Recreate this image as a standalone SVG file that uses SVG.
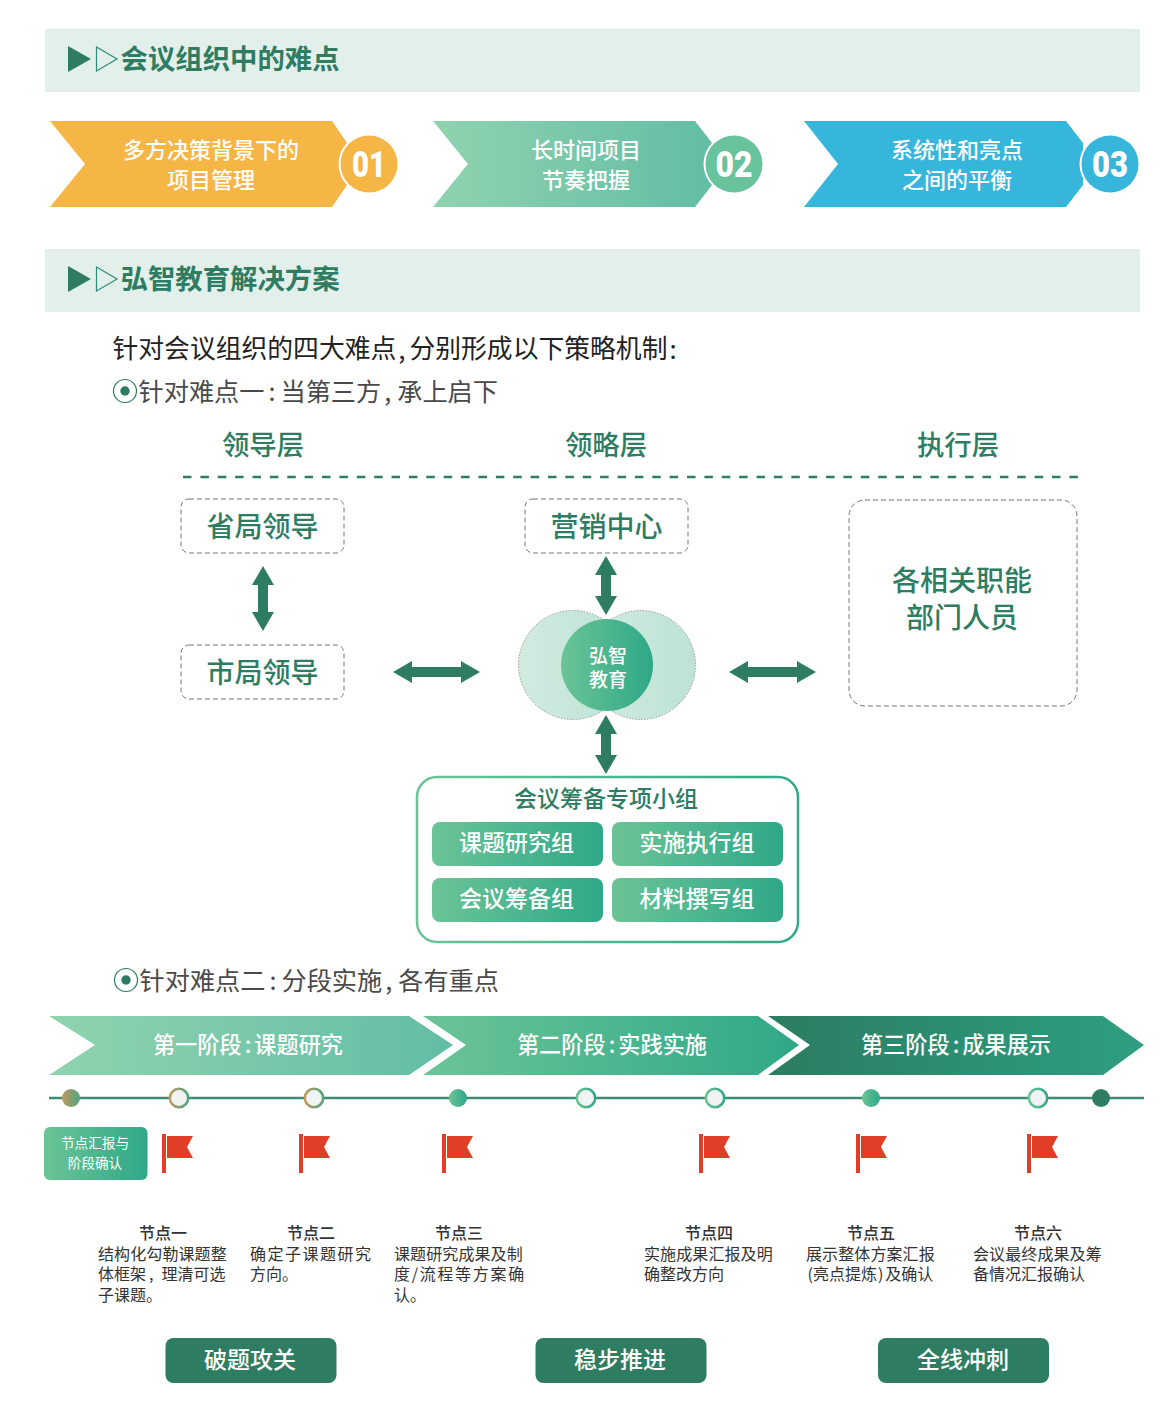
<svg xmlns="http://www.w3.org/2000/svg" width="1171" height="1409" viewBox="0 0 1171 1409">
<style>
text{font-family:"Noto Sans CJK SC","Noto Sans",sans-serif;dominant-baseline:central}
.m{text-anchor:middle}
.h{font-size:27.400px;font-weight:700;fill:#2e7d62}
.w{fill:#fff}
.c1{font-size:22px;fill:#fff;font-weight:500}
.num{font-family:"Roboto",sans-serif;font-size:36.500px;font-weight:900;fill:#fff;text-anchor:middle}
.body{font-size:25.800px;fill:#222}
.sub{font-size:25.200px;fill:#4a4a4a}
.col{font-size:27.400px;fill:#2e7d62;text-anchor:middle;font-weight:500}
.big{font-size:28px;fill:#2e7d62;text-anchor:middle;font-weight:500}
.dash{fill:#fff;stroke:#777;stroke-width:1;stroke-dasharray:5 3}
.g{font-size:23px;fill:#fff;text-anchor:middle;font-weight:500}
.ph{font-size:22.200px;fill:#fff;text-anchor:middle;font-weight:500}
.hollow{stroke-width:2.500;fill:#f0f2f4}
.n{font-size:16px;fill:#333}
.t{font-weight:500;text-anchor:middle}
.btn{fill:#2e7d62}
.bt{font-size:23px;fill:#fff;text-anchor:middle;font-weight:500}
.arr{fill:#2e7d62}
.flag{fill:#e03e26}
</style>
<defs>
<linearGradient id="gA"><stop offset="0" stop-color="#90d3ae"/><stop offset="1" stop-color="#62bda6"/></linearGradient>
<linearGradient id="gB"><stop offset="0" stop-color="#6bc496"/><stop offset="1" stop-color="#2fa888"/></linearGradient>
<linearGradient id="gC"><stop offset="0" stop-color="#2b7c62"/><stop offset="1" stop-color="#2e9f82"/></linearGradient>
<linearGradient id="gT"><stop offset="0" stop-color="#c09a5e"/><stop offset="1" stop-color="#4fa47e"/></linearGradient>
<linearGradient id="gL"><stop offset="0" stop-color="#d2ebdf"/><stop offset="1" stop-color="#bde2d6"/></linearGradient>
<path id="flag" d="M0 -1H4V38H0ZM5 1H31L25 12L31 23H5Z"/>
</defs>

<g id="heading1">
<rect x="45" y="29" width="1095" height="63" fill="#e3efeb"/>
<path d="M68 46L91 59L68 72Z" fill="#2e7d62"/>
<path d="M96.500 47L117 59L96.500 71Z" fill="none" stroke="#2e8c75" stroke-width="1.200"/>
<text x="120.500" y="57" class="h">会议组织中的难点</text>
</g>
<g id="diff1">
<path d="M50 121H332L347 143V185L332 207H50L85 164Z" fill="#f6b646"/>
<circle cx="369" cy="164" r="30.500" fill="#fff"/><circle cx="369" cy="164" r="28.500" fill="#f6b646"/>
<text x="211" y="147.500" class="c1 m">多方决策背景下的</text><text x="211" y="177.500" class="c1 m">项目管理</text>
<text x="369" y="164" class="num" textLength="34" lengthAdjust="spacingAndGlyphs">01</text>
</g>
<g id="diff2">
<path d="M433 121H695L712 143V185L695 207H433L468 164Z" fill="url(#gA)"/>
<circle cx="734" cy="164" r="30.500" fill="#fff"/><circle cx="734" cy="164" r="28.500" fill="#68c29c"/>
<text x="586" y="147.500" class="c1 m">长时间项目</text><text x="586" y="177.500" class="c1 m">节奏把握</text>
<text x="734" y="164" class="num" textLength="37" lengthAdjust="spacingAndGlyphs">02</text>
</g>
<g id="diff3">
<path d="M804 121H1066L1083 143V185L1066 207H804L838 164Z" fill="#37b6dc"/>
<circle cx="1110" cy="164" r="30.500" fill="#fff"/><circle cx="1110" cy="164" r="28.500" fill="#37b6dc"/>
<text x="957" y="147.500" class="c1 m">系统性和亮点</text><text x="957" y="177.500" class="c1 m">之间的平衡</text>
<text x="1110" y="164" class="num" textLength="36" lengthAdjust="spacingAndGlyphs">03</text>
</g>

<g id="heading2">
<rect x="45" y="249" width="1095" height="63" fill="#e3efeb"/>
<path d="M68 266L91 279L68 292Z" fill="#2e7d62"/>
<path d="M96.500 267L117 279L96.500 291Z" fill="none" stroke="#2e8c75" stroke-width="1.200"/>
<text x="120.500" y="277" class="h">弘智教育解决方案</text>
</g>
<text x="112.500" y="346.500" class="body">针对会议组织的四大难点<tspan dx="2" letter-spacing="4">,</tspan>分别形成以下策略机制<tspan dx="2">:</tspan></text>
<g id="point1">
<circle cx="125" cy="391" r="11.500" fill="none" stroke="#2e7d62" stroke-width="1.200"/><circle cx="125" cy="391" r="4.700" fill="#2e7d62"/>
<text x="138.500" y="389.500" class="sub">针对难点一<tspan dx="4" letter-spacing="5">:</tspan>当第三方<tspan dx="3" letter-spacing="6">,</tspan>承上启下</text>
</g>
<text x="263" y="443" class="col">领导层</text>
<text x="606" y="443" class="col">领略层</text>
<text x="958" y="443" class="col">执行层</text>
<line x1="183" y1="477" x2="1078" y2="477" stroke="#2e7d62" stroke-width="2.400" stroke-dasharray="8.500 8.880"/>

<g id="connectors">
<path class="arr" d="M263 566L274 585H268V612H274L263 631L252 612H258V585H252Z"/>
<path class="arr" d="M606 556L617 575H611V596H617L606 615L595 596H601V575H595Z"/>
<path class="arr" d="M606 715L617 734H611V755H617L606 774L595 755H601V734H595Z"/>
<path class="arr" d="M393 672L412 661V667H461V661L480 672L461 683V677H412V683Z"/>
<path class="arr" d="M729 672L748 661V667H797V661L816 672L797 683V677H748V683Z"/>
</g>

<g id="n-province"><rect x="181" y="499" width="163" height="54" rx="8" class="dash"/><text x="262.500" y="525" class="big">省局领导</text></g>
<g id="n-city"><rect x="181" y="645" width="163" height="54" rx="8" class="dash"/><text x="262.500" y="671" class="big">市局领导</text></g>
<g id="n-marketing"><rect x="525" y="499" width="163" height="54" rx="8" class="dash"/><text x="606.500" y="525" class="big">营销中心</text></g>
<g id="n-depts"><rect x="849" y="500" width="228" height="206" rx="16" class="dash"/><text x="962" y="579" class="big">各相关职能</text><text x="962" y="616" class="big">部门人员</text></g>
<g id="n-hongzhi">
<circle cx="573" cy="665" r="54.500" fill="url(#gL)" stroke="#999" stroke-width="1" stroke-dasharray="1.500 1.500"/>
<circle cx="641" cy="665" r="54.500" fill="url(#gL)" stroke="#999" stroke-width="1" stroke-dasharray="1.500 1.500"/>
<circle cx="607" cy="665" r="46" fill="url(#gB)"/>
<text x="608" y="654" class="m w" font-size="19" font-weight="500">弘智</text><text x="608" y="678" class="m w" font-size="19" font-weight="500">教育</text>
</g>
<g id="n-group">
<rect x="417" y="777" width="381" height="165" rx="20" fill="#fff" stroke="url(#gB)" stroke-width="2.500"/>
<text x="606" y="796.500" font-size="23" font-weight="500" fill="#2e7d62" class="m">会议筹备专项小组</text>
<rect x="432" y="822" width="171" height="44" rx="8" fill="url(#gB)"/><text x="516.500" y="841" class="g">课题研究组</text>
<rect x="612" y="822" width="171" height="44" rx="8" fill="url(#gB)"/><text x="697" y="841" class="g">实施执行组</text>
<rect x="432" y="878" width="171" height="44" rx="8" fill="url(#gB)"/><text x="516.500" y="896.500" class="g">会议筹备组</text>
<rect x="612" y="878" width="171" height="44" rx="8" fill="url(#gB)"/><text x="697" y="896.500" class="g">材料撰写组</text>
</g>

<g id="point2">
<circle cx="126" cy="980" r="11.500" fill="none" stroke="#2e7d62" stroke-width="1.200"/><circle cx="126" cy="980" r="4.700" fill="#2e7d62"/>
<text x="139.500" y="978.500" class="sub">针对难点二<tspan dx="4" letter-spacing="5">:</tspan>分段实施<tspan dx="3" letter-spacing="6">,</tspan>各有重点</text>
</g>
<g id="phase1"><path d="M49 1016H409L453 1045L409 1075H49L95 1045Z" fill="url(#gA)"/><text x="248" y="1043" class="ph">第一阶段<tspan dx="3" letter-spacing="3">:</tspan>课题研究</text></g>
<g id="phase2"><path d="M423 1016H758L799 1045L758 1075H423L466 1045Z" fill="url(#gB)"/><text x="612" y="1043" class="ph">第二阶段<tspan dx="3" letter-spacing="3">:</tspan>实践实施</text></g>
<g id="phase3"><path d="M768 1016H1103L1144 1045L1103 1075H768L810 1045Z" fill="url(#gC)"/><text x="956" y="1043" class="ph">第三阶段<tspan dx="3" letter-spacing="3">:</tspan>成果展示</text></g>

<g id="timeline">
<line x1="49" y1="1098" x2="1144" y2="1098" stroke="#3f8a70" stroke-width="2.500"/>
<circle cx="71" cy="1098" r="9" fill="url(#gT)"/>
<circle cx="179" cy="1098" r="9.200" class="hollow" stroke="url(#gT)"/>
<circle cx="314" cy="1098" r="9.200" class="hollow" stroke="url(#gT)"/>
<circle cx="458" cy="1098" r="9" fill="url(#gB)"/>
<circle cx="586" cy="1098" r="9.200" class="hollow" stroke="url(#gB)"/>
<circle cx="715" cy="1098" r="9.200" class="hollow" stroke="url(#gB)"/>
<circle cx="871" cy="1098" r="9" fill="url(#gB)"/>
<circle cx="1038" cy="1098" r="9.200" class="hollow" stroke="url(#gB)"/>
<circle cx="1101" cy="1098" r="9" fill="#2e7d62"/>
</g>
<g id="legend"><rect x="44" y="1127" width="103.500" height="53" rx="6" fill="url(#gB)"/>
<text x="95" y="1142" font-size="13.600" class="m w">节点汇报与</text><text x="95" y="1162" font-size="13.600" class="m w">阶段确认</text></g>
<g id="flags" class="flag">
<use href="#flag" x="162" y="1135"/><use href="#flag" x="299" y="1135"/><use href="#flag" x="442" y="1135"/>
<use href="#flag" x="699" y="1135"/><use href="#flag" x="856" y="1135"/><use href="#flag" x="1027" y="1135"/>
</g>
<g id="node1"><text x="163" y="1232" class="n t">节点一</text><text x="98" y="1252.500" class="n" letter-spacing="0.100">结构化勾勒课题整</text><text x="98" y="1273" class="n">体框架<tspan dx="3" letter-spacing="8">,</tspan>理清可选</text><text x="98" y="1294" class="n">子课题。</text></g>
<g id="node2"><text x="311" y="1232" class="n t">节点二</text><text x="250" y="1252.500" class="n" letter-spacing="1.500">确定子课题研究</text><text x="250" y="1273" class="n">方向。</text></g>
<g id="node3"><text x="459" y="1232" class="n t">节点三</text><text x="394" y="1252.500" class="n" letter-spacing="0.100">课题研究成果及制</text><text x="394" y="1273" class="n" letter-spacing="1.700">度/流程等方案确</text><text x="394" y="1294" class="n">认。</text></g>
<g id="node4"><text x="709" y="1232" class="n t">节点四</text><text x="644" y="1252.500" class="n" letter-spacing="0.100">实施成果汇报及明</text><text x="644" y="1273" class="n">确整改方向</text></g>
<g id="node5"><text x="871" y="1232" class="n t">节点五</text><text x="806" y="1252.500" class="n" letter-spacing="0.100">展示整体方案汇报</text><text x="807.500" y="1273" class="n">(亮点提炼<tspan dx="1" letter-spacing="2">)</tspan>及确认</text></g>
<g id="node6"><text x="1038" y="1232" class="n t">节点六</text><text x="973" y="1252.500" class="n" letter-spacing="0.100">会议最终成果及筹</text><text x="973" y="1273" class="n">备情况汇报确认</text></g>
<g id="btn1"><rect x="165.500" y="1338" width="171" height="45" rx="8" class="btn"/><text x="250" y="1358" class="bt">破题攻关</text></g>
<g id="btn2"><rect x="535.500" y="1338" width="171" height="45" rx="8" class="btn"/><text x="620" y="1358" class="bt">稳步推进</text></g>
<g id="btn3"><rect x="878" y="1338" width="171" height="45" rx="8" class="btn"/><text x="963" y="1358" class="bt">全线冲刺</text></g>
</svg>
